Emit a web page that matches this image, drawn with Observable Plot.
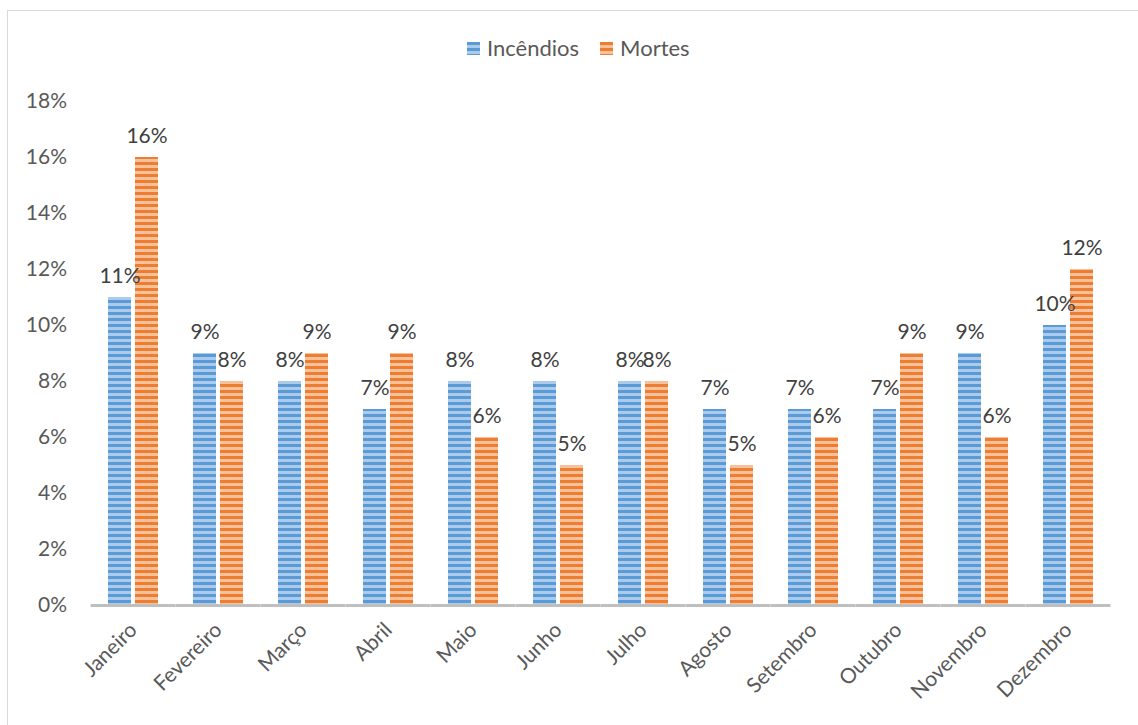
<!DOCTYPE html>
<html>
<head>
<meta charset="utf-8">
<script src="https://cdn.jsdelivr.net/npm/d3@7"></script>
<script src="https://cdn.jsdelivr.net/npm/@observablehq/plot@0.6"></script>
<style>
  html, body { margin: 0; padding: 0; background: #fff; }
  #wrap { position: relative; width: 1138px; height: 725px; overflow: hidden; font-family: Lato, "Open Sans", sans-serif; }
  #frame { position: absolute; left: 7px; top: 10px; width: 1140px; height: 720px; border: 1px solid #d9d9d9; box-sizing: border-box; }
  #legend { position: absolute; top: 35px; left: 467px; display: flex; gap: 21px; color: #595959; font-size: 22px; line-height: 26px; }
  #legend span.item { display: inline-flex; align-items: center; gap: 7px; }
  #chart { position: absolute; left: 0; top: 0; }
</style>
</head>
<body>
<div id="wrap">
  <div id="frame"></div>
  <svg width="0" height="0" style="position:absolute">
    <defs>
      <pattern id="stripe-inc" patternUnits="userSpaceOnUse" width="6" height="6">
        <rect width="6" height="6" fill="#abcaec"></rect>
        <rect width="6" height="3" fill="#5b9bd5"></rect>
      </pattern>
      <pattern id="stripe-mor" patternUnits="userSpaceOnUse" width="6" height="6">
        <rect width="6" height="6" fill="#f7c19c"></rect>
        <rect width="6" height="3" fill="#ed7d31"></rect>
      </pattern>
    </defs>
  </svg>
  <div id="legend"></div>
  <div id="chart"></div>
</div>
<script>
// Monthly share of fires and deaths
const months = ["Janeiro", "Fevereiro", "Março", "Abril", "Maio", "Junho", "Julho", "Agosto", "Setembro", "Outubro", "Novembro", "Dezembro"];
const series = ["Incêndios", "Mortes"];
const incendios = [0.11, 0.09, 0.08, 0.07, 0.08, 0.08, 0.08, 0.07, 0.07, 0.07, 0.09, 0.10];
const mortes = [0.16, 0.08, 0.09, 0.09, 0.06, 0.05, 0.08, 0.05, 0.06, 0.09, 0.06, 0.12];
const yTicks = [0, 0.02, 0.04, 0.06, 0.08, 0.10, 0.12, 0.14, 0.16, 0.18];

const fills = {"Incêndios": "url(#stripe-inc)", "Mortes": "url(#stripe-mor)"};

const data = months.flatMap((m, i) => [
  {month: m, series: "Incêndios", value: incendios[i]},
  {month: m, series: "Mortes", value: mortes[i]}
]);

const pct = d3.format(".0%");

// Month groups: inner padding 0.41 of the step, half of that on the outside,
// so each group is centred in its twelfth of the axis.
const fxPadIn = 0.41;
const fxPadOut = fxPadIn / 2;
const step = (1138 - 90 - 26) / months.length;
const gapHalf = step * fxPadIn / 2;

const chart = Plot.plot({
  width: 1138,
  height: 725,
  marginTop: 101,
  marginBottom: 120,
  marginLeft: 90,
  marginRight: 26,
  style: {fontFamily: "Lato, 'Open Sans', sans-serif", fontSize: "21px", color: "#595959", background: "transparent"},
  fx: {domain: months, paddingInner: fxPadIn, paddingOuter: fxPadOut, label: null, tickRotate: -45, tickSize: 0, tickPadding: 21},
  x: {domain: series, paddingInner: 0.15, paddingOuter: 0, axis: null},
  // the y axis sits on the first group's left edge, so pad past the outer gap too
  y: {domain: [0, 0.18], ticks: yTicks, tickFormat: pct, tickSize: 0, tickPadding: 24 + gapHalf, label: null},
  marks: [
    Plot.barY(data, {fx: "month", x: "series", y: "value", fill: d => fills[d.series]}),
    Plot.text(data, {fx: "month", x: "series", y: "value", text: d => pct(d.value), lineAnchor: "bottom", dy: -15, fill: "#404040", fontSize: 21}),
    // Baseline drawn in every group, stretched across the gaps so it reads as one line
    Plot.ruleY([0], {stroke: "#bfbfbf", strokeWidth: 3, insetLeft: -gapHalf, insetRight: -gapHalf})
  ]
});
document.getElementById("chart").appendChild(chart);

// Legend
const legend = d3.select("#legend");
series.forEach(s => {
  const item = legend.append("span").attr("class", "item");
  item.append("svg").attr("width", 13).attr("height", 13)
    .append("rect").attr("width", 13).attr("height", 13).attr("fill", fills[s]);
  item.append("span").text(s);
});
</script>
</body>
</html>
